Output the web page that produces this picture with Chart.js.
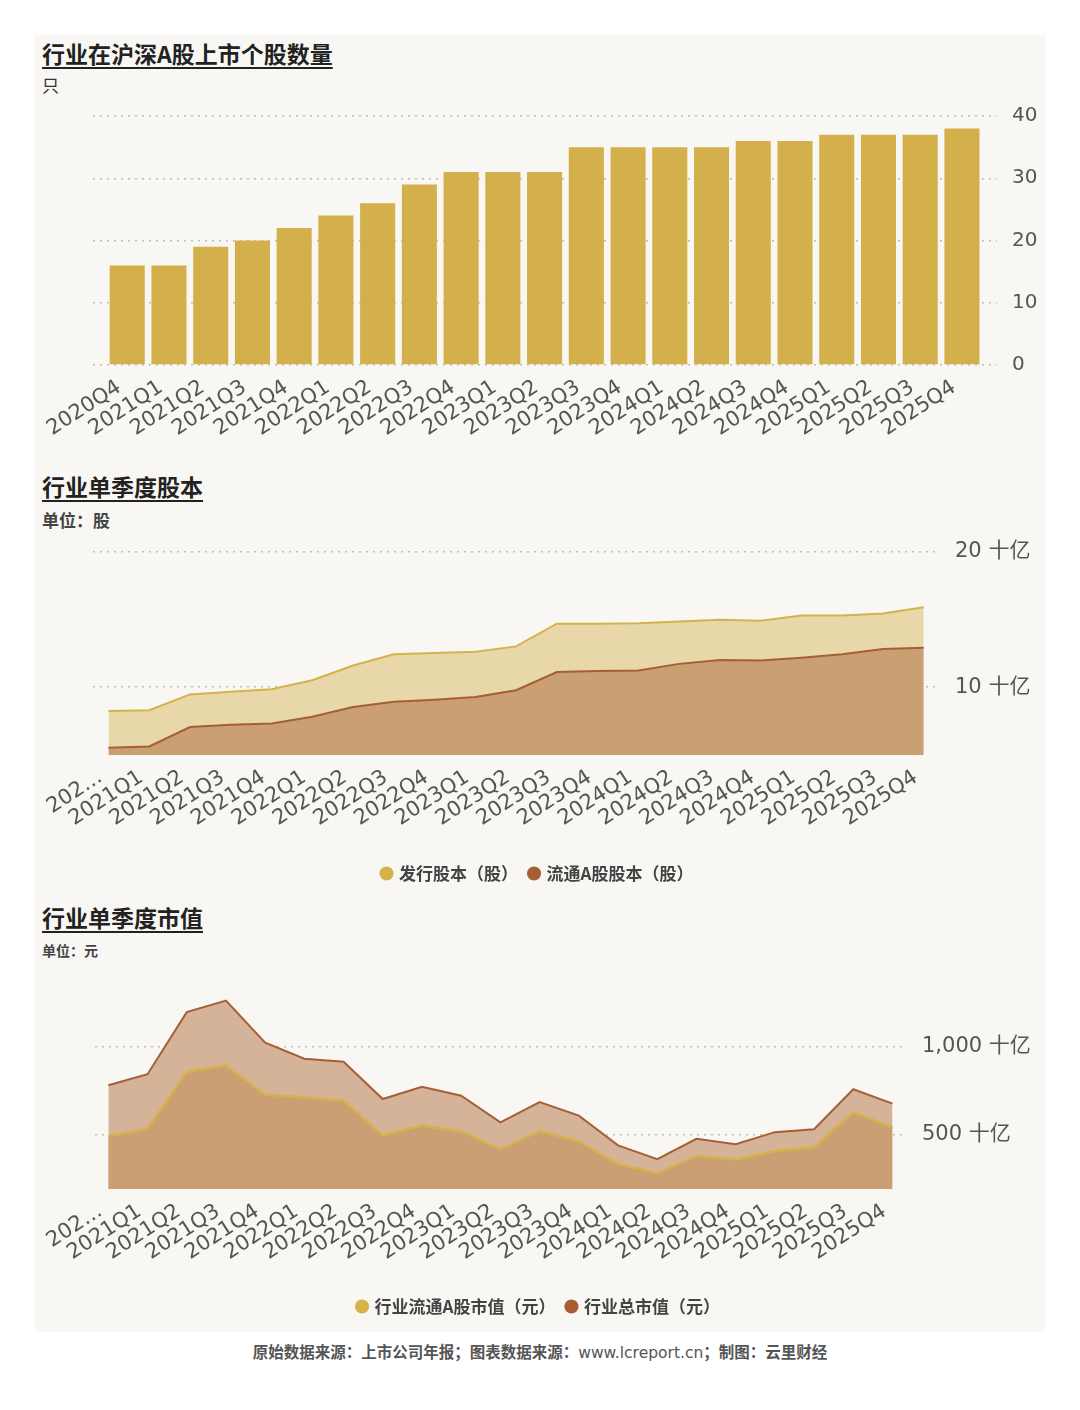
<!DOCTYPE html>
<html lang="zh-CN">
<head>
<meta charset="utf-8">
<title>行业季度数据</title>
<script src="https://cdn.jsdelivr.net/npm/chart.js@4.4.1/dist/chart.umd.min.js"></script>
<style>
    body { margin: 0; background: #ffffff; width: 1080px; height: 1410px; position: relative; overflow: hidden; }
    .card { position: absolute; left: 35px; top: 35px; width: 1010px; height: 1297px; background: #f9f7f3; }
    .title { position: absolute; left: 42px; font-family: "Noto Sans CJK SC", sans-serif; font-weight: 700; font-size: 23px; line-height: 26px; color: #222; text-decoration: underline; text-decoration-thickness: 2px; text-underline-offset: 4px; }
    .unit { position: absolute; left: 42px; font-family: "Noto Sans CJK SC", sans-serif; color: #333; }
    .footer { position: absolute; left: 0; width: 1080px; top: 1340px; text-align: center; font-family: "Noto Sans CJK SC", sans-serif; font-weight: 700; font-size: 15.5px; color: #555; }
    .footer span { font-family: "DejaVu Sans", sans-serif; font-weight: 400; }
    canvas { position: absolute; left: 35px; }
</style>
</head>
<body>
<div class="card"></div>

<div class="title" style="top:40px">行业在沪深A股上市个股数量</div>
<div class="unit" style="top:74px;font-size:17px;line-height:22px">只</div>
<canvas id="countChart" width="1010" height="367" style="top:89px"></canvas>

<div class="title" style="top:473px">行业单季度股本</div>
<div class="unit" style="top:509px;font-size:17px;line-height:22px;font-weight:700;color:#444">单位：股</div>
<canvas id="sharesChart" width="1010" height="368" style="top:524px"></canvas>

<div class="title" style="top:904px">行业单季度市值</div>
<div class="unit" style="top:941px;font-size:14px;line-height:18px;font-weight:700;color:#444">单位：元</div>
<canvas id="mktCapChart" width="1010" height="365" style="top:960px"></canvas>

<div class="footer">原始数据来源：上市公司年报；图表数据来源：<span>www.lcreport.cn</span>；制图：云里财经</div>

<script>
// ===== Données =====
const quarters = ["2020Q4", "2021Q1", "2021Q2", "2021Q3", "2021Q4", "2022Q1", "2022Q2", "2022Q3", "2022Q4",
    "2023Q1", "2023Q2", "2023Q3", "2023Q4", "2024Q1", "2024Q2", "2024Q3", "2024Q4",
    "2025Q1", "2025Q2", "2025Q3", "2025Q4"];

// 上市个股数量（只）
const stockCount = [16, 16, 19, 20, 22, 24, 26, 29, 31, 31, 31, 35, 35, 35, 35, 36, 36, 37, 37, 37, 38];
const countTicks = [0, 10, 20, 30, 40];

// 股本（十亿股）
const issuedShares = [8.25, 8.30, 9.47, 9.66, 9.85, 10.51, 11.60, 12.43, 12.53, 12.62, 13.01,
    14.68, 14.68, 14.71, 14.85, 14.98, 14.90, 15.29, 15.29, 15.44, 15.90];
const floatShares = [5.53, 5.63, 7.06, 7.23, 7.33, 7.82, 8.54, 8.93, 9.08, 9.27, 9.78,
    11.12, 11.19, 11.24, 11.72, 12.01, 11.97, 12.18, 12.43, 12.82, 12.91];
const sharesTicks = [10, 20];

// 市值（十亿元）
const floatMktCap = [492, 534, 857, 895, 729, 712, 694, 496, 553, 519, 417,
    521, 462, 333, 282, 380, 359, 408, 429, 628, 543];
const totalMktCap = [782, 844, 1197, 1263, 1023, 932, 915, 703, 773, 722, 571,
    686, 609, 440, 361, 477, 447, 515, 532, 759, 677];
const mktCapTicks = [500, 1000];

// ===== Styles =====
const GOLD = "#d6b24a";
const BROWN = "#a65f35";
const tickFamily = "'DejaVu Sans', 'Noto Sans CJK SC', sans-serif";

// ===== Fonctions =====
function toPoints(values) {
    return values.map((v, i) => ({ x: i, y: v }));
}

function quarterAxis(min, max, height, shortFirst) {
    return {
        type: "linear",
        min: min,
        max: max,
        offset: false,
        grid: { display: false },
        border: { display: false },
        afterBuildTicks: (axis) => { axis.ticks = quarters.map((q, i) => ({ value: i })); },
        afterFit: (axis) => { axis.height = height; },
        ticks: {
            autoSkip: false,
            minRotation: 33,
            maxRotation: 33,
            padding: 2,
            labelOffset: -8,
            color: "#555",
            font: { family: tickFamily, size: 21 },
            callback: (v) => (shortFirst && v === 0) ? quarters[0].slice(0, 3) + "…" : quarters[v]
        }
    };
}

function valueAxis(min, max, tickValues, width, fontSize, format) {
    return {
        position: "right",
        min: min,
        max: max,
        border: { display: false, dash: [2, 5] },
        grid: { drawTicks: false, color: "#c2beb6", lineWidth: 1.5 },
        afterBuildTicks: (axis) => { axis.ticks = tickValues.map(v => ({ value: v })); },
        afterFit: (axis) => { axis.width = width; },
        ticks: { padding: 15, color: "#555", font: { family: tickFamily, size: fontSize }, callback: format }
    };
}

function legendOptions() {
    return {
        position: "bottom",
        labels: {
            usePointStyle: true,
            pointStyle: "circle",
            boxWidth: 8,
            boxHeight: 10,
            padding: 12,
            color: "#444",
            font: { family: "'Noto Sans CJK SC', sans-serif", size: 17, weight: "bold" },
            sort: (a, b) => a.datasetIndex - b.datasetIndex
        }
    };
}

function areaDataset(label, values, fillColor, lineColor, lineWidth, order) {
    return {
        label: label,
        data: toPoints(values),
        order: order,
        fill: "start",
        backgroundColor: fillColor,
        borderColor: lineColor,
        borderWidth: lineWidth,
        pointRadius: 0,
        pointBackgroundColor: lineColor,
        pointBorderColor: lineColor,
        pointBorderWidth: 0,
        tension: 0
    };
}

// Décaler la légende vers la gauche (centrée sous la zone de tracé)
const legendShift = {
    id: "legendShift",
    afterLayout(chart) {
        if (chart.legend) {
            chart.legend.left -= 31;
            chart.legend.right -= 31;
        }
    }
};

// ===== Graphiques =====
function initCharts() {
    Chart.defaults.animation = false;

    // 行业在沪深A股上市个股数量
    new Chart(document.getElementById("countChart"), {
        type: "bar",
        data: {
            datasets: [{
                label: "上市个股数量",
                data: toPoints(stockCount),
                backgroundColor: "#d3b04b",
                categoryPercentage: 1,
                barPercentage: 0.84
            }]
        },
        options: {
            responsive: false,
            layout: { padding: { left: 58, top: 0, right: 0, bottom: 0 } },
            plugins: { legend: { display: false }, tooltip: { enabled: false } },
            scales: {
                x: quarterAxis(-0.82, 20.84, 91, false),
                y: valueAxis(0, 40, countTicks, 48, 20, (v) => v)
            }
        }
    });

    // 行业单季度股本
    new Chart(document.getElementById("sharesChart"), {
        type: "line",
        data: {
            datasets: [
                areaDataset("发行股本（股）", issuedShares, "#e8d7a9", GOLD, 2, 1),
                areaDataset("流通A股股本（股）", floatShares, "#c99f73", BROWN, 2, 0)
            ]
        },
        options: {
            responsive: false,
            layout: { padding: { left: 58, top: 26, right: 0, bottom: 0 } },
            plugins: { legend: legendOptions(), tooltip: { enabled: false } },
            scales: {
                x: quarterAxis(-0.38, 20.4, 98, true),
                y: valueAxis(5, 20, sharesTicks, 105, 21, (v) => v + " 十亿")
            }
        },
        plugins: [legendShift]
    });

    // 行业单季度市值
    new Chart(document.getElementById("mktCapChart"), {
        type: "line",
        data: {
            datasets: [
                areaDataset("行业流通A股市值（元）", floatMktCap, "#c99f73", GOLD, 2.5, 0),
                areaDataset("行业总市值（元）", totalMktCap, "#d4b398", BROWN, 2, 1)
            ]
        },
        options: {
            responsive: false,
            layout: { padding: { left: 60, top: 34, right: 0, bottom: 0 } },
            plugins: { legend: legendOptions(), tooltip: { enabled: false } },
            scales: {
                x: quarterAxis(-0.34, 20.37, 97, true),
                y: valueAxis(192, 1300, mktCapTicks, 138, 21, (v) => v.toLocaleString("en-US") + " 十亿")
            }
        },
        plugins: [legendShift]
    });
}

document.addEventListener("DOMContentLoaded", initCharts);
</script>
</body>
</html>
